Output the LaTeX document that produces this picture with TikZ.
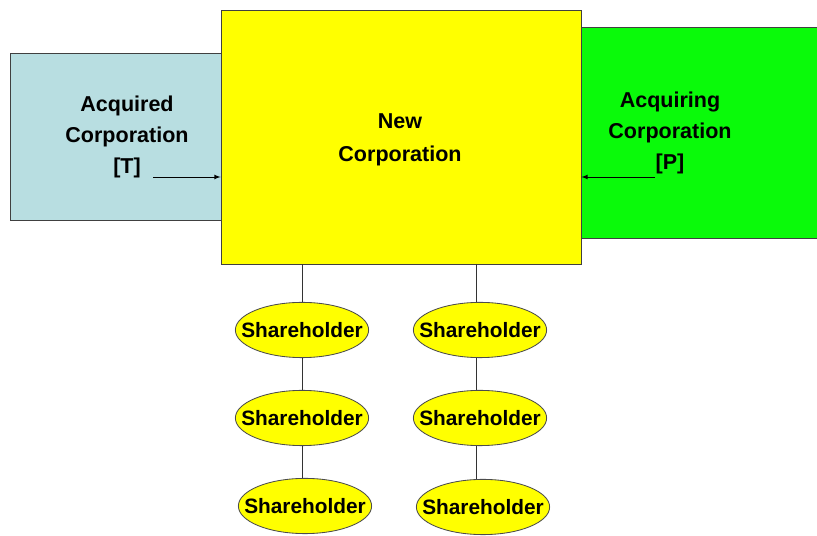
\documentclass[tikz,border=0pt]{standalone}
\usepackage{fontspec}
\setmainfont{Liberation Sans}
\usetikzlibrary{shapes.geometric}

\definecolor{acqblue}{RGB}{184,222,225}
\definecolor{corpyellow}{RGB}{255,255,0}
\definecolor{corpgreen}{RGB}{10,250,10}

\tikzset{
  corpbox/.style={draw=black!75, line width=0.6pt, inner sep=0pt},
  corplabel/.style={align=center, font=\fontsize{15.3}{22}\selectfont\bfseries, inner sep=0pt},
  holder/.style={ellipse, draw=black!70, fill=corpyellow, line width=0.6pt,
    minimum width=3.32cm, minimum height=1.38cm, inner xsep=-0.34cm, inner ysep=0pt,
    font=\fontsize{14.8}{16}\selectfont\bfseries},
  tie/.style={draw=black!80, line width=0.5pt},
  arr/.style={-latex, line width=0.5pt}
}

\begin{document}
\begin{tikzpicture}[x=0.025cm,y=-0.025cm]
	\useasboundingbox (0,0) rectangle (817,536);
	\clip (0,0) rectangle (817,536);
	% the three corporations
	\node [corpbox, fill=acqblue, minimum width=5.3cm, minimum height=4.175cm] (tbox) at (116,136.5) {};
	\node [corpbox, fill=corpgreen, minimum width=6.25cm, minimum height=5.275cm] (pbox) at (705,132.5) {};
	\node [corpbox, fill=corpyellow, minimum width=9cm, minimum height=6.35cm] (newbox) at (401,137) {};
	\node [corplabel] (tlab) at (127,137) {Acquired\\Corporation\\{[T]}};
	\node [corplabel] (plab) at (670,133) {Acquiring\\Corporation\\{[P]}};
	\node [corplabel, font=\fontsize{15.3}{23.5}\selectfont\bfseries] (newlab) at (400,139.5) {New\\Corporation};
	\coordinate (tarr) at (153,177);
	\coordinate (parr) at (655,177);
	\draw [arr] (tarr) -- (tarr -| newbox.west);
	\draw [arr] (parr) -- (parr -| newbox.east);
	% shareholders
	\node [holder] (sa1) at (302,330) {Shareholder};
	\node [holder] (sa2) at (302,418) {Shareholder};
	\node [holder] (sa3) at (305,506) {Shareholder};
	\node [holder] (sb1) at (480,330) {Shareholder};
	\node [holder] (sb2) at (480,418) {Shareholder};
	\node [holder] (sb3) at (483,507) {Shareholder};
	\draw [tie] (sa1.north |- newbox.south) -- (sa1.north);
	\draw [tie] (sa1.south) -- (sa2.north);
	\draw [tie] (sa2.south) -- (sa2.south |- sa3.north);
	\coordinate (rtop) at (476,264);
	\draw [tie] (rtop) -- (rtop |- sb1.north);
	\draw [tie] (rtop |- sb1.south) -- (rtop |- sb2.north);
	\draw [tie] (rtop |- sb2.south) -- (rtop |- sb3.north);
\end{tikzpicture}
\end{document}
